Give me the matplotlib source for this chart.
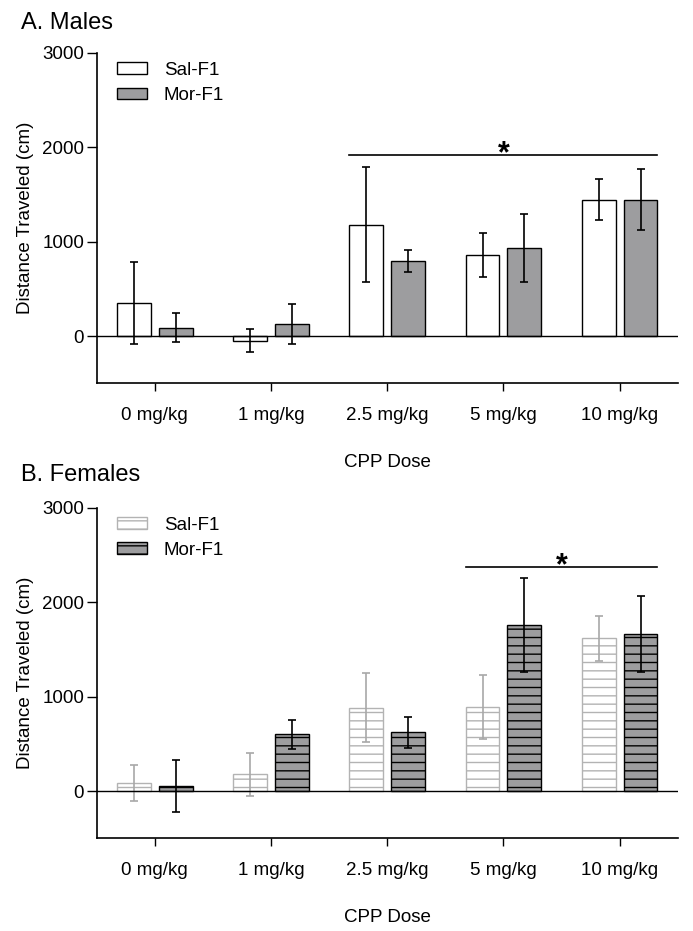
import matplotlib
matplotlib.use("Agg")
import matplotlib.pyplot as plt
import numpy as np

plt.rcParams['font.family'] = ['Liberation Sans', 'DejaVu Sans']
plt.rcParams['hatch.linewidth'] = 1.0

categories = ["0 mg/kg", "1 mg/kg", "2.5 mg/kg", "5 mg/kg", "10 mg/kg"]
series_names = ["Sal-F1", "Mor-F1"]

male_sal = [353, -47, 1181, 860, 1445]
male_sal_err = [432, 122, 612, 231, 218]
male_mor = [89, 131, 793, 934, 1442]
male_mor_err = [152, 212, 120, 357, 322]

female_sal = [88, 176, 881, 891, 1619]
female_sal_err = [190, 228, 366, 338, 239]
female_mor = [53, 599, 620, 1760, 1662]
female_mor_err = [278, 150, 163, 499, 401]

male_sig = {"from": 2, "to": 4, "y": 1920}
female_sig = {"from": 3, "to": 4, "y": 2370}

yticks = [0, 1000, 2000, 3000]

FS = 13.5
W = 0.29
OFF = 0.18

fig = plt.figure(figsize=(6.93, 9.31), dpi=100)

def panel(rect, title, sal, sal_err, mor, mor_err, sig, female, title_y):
    ax = fig.add_axes(rect)
    x = np.arange(len(categories))
    if female:
        sal_kw = dict(color='white', edgecolor='#b3b3b3', hatch='--', linewidth=1.0)
        mor_kw = dict(color='#9d9d9f', edgecolor='black', hatch='--', linewidth=1.0)
        sal_ecol = '#a8a8a8'
    else:
        sal_kw = dict(color='white', edgecolor='black', linewidth=1.0)
        mor_kw = dict(color='#9d9d9f', edgecolor='black', linewidth=1.0)
        sal_ecol = 'black'
    ax.bar(x - OFF, sal, W, label=series_names[0], zorder=2, **sal_kw)
    ax.bar(x + OFF, mor, W, label=series_names[1], zorder=2, **mor_kw)
    ax.errorbar(x - OFF, sal, yerr=sal_err, fmt='none', ecolor=sal_ecol,
                elinewidth=1.2, capsize=3, capthick=1.2, zorder=3)
    ax.errorbar(x + OFF, mor, yerr=mor_err, fmt='none', ecolor='black',
                elinewidth=1.2, capsize=3, capthick=1.2, zorder=3)
    ax.axhline(0, color='black', linewidth=1.0, zorder=4)

    x0 = sig["from"] - OFF - W / 2
    x1 = sig["to"] + OFF + W / 2
    ax.plot([x0, x1], [sig["y"], sig["y"]], color='black', linewidth=1.2, clip_on=False)
    ax.text((x0 + x1) / 2, sig["y"] - 75, '*', ha='center', va='baseline',
            fontsize=22, fontweight='bold')

    ax.set_xlim(-0.5, 4.5)
    ax.set_ylim(-500, 3000)
    ax.set_yticks(yticks)
    ax.set_xticks(x)
    ax.set_xticklabels(categories, fontsize=FS)
    ax.tick_params(axis='y', labelsize=FS, length=7, width=1.0, pad=2)
    ax.tick_params(axis='x', labelsize=FS, length=6, width=1.0, pad=11)
    for s in ['top', 'right']:
        ax.spines[s].set_visible(False)
    for s in ['left', 'bottom']:
        ax.spines[s].set_linewidth(1.2)
    ax.set_ylabel('Distance Traveled (cm)', fontsize=FS, labelpad=6)
    ax.set_xlabel('CPP Dose', fontsize=FS, labelpad=22)
    ax.legend(loc='upper left', bbox_to_anchor=(0.006, 1.024), frameon=False,
              fontsize=FS, handlelength=1.6, handleheight=0.6,
              labelspacing=0.45, handletextpad=0.9)
    fig.text(0.03, title_y, title, fontsize=17, ha='left', va='center')
    return ax

panel([0.1395, 0.5883, 0.8385, 0.3551], 'A. Males', male_sal, male_sal_err,
      male_mor, male_mor_err, male_sig, False, 1 - 23 / 931)
panel([0.1395, 0.0996, 0.8385, 0.3551], 'B. Females', female_sal, female_sal_err,
      female_mor, female_mor_err, female_sig, True, 1 - 475 / 931)

fig.savefig('out.png', dpi=100)
